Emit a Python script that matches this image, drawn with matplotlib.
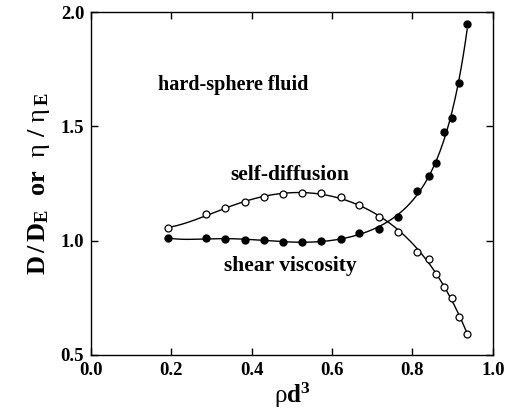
import numpy as np
import matplotlib.pyplot as plt

plt.rcParams['font.family'] = 'Liberation Serif'
plt.rcParams['font.weight'] = 'bold'
plt.rcParams['axes.labelweight'] = 'bold'
plt.rcParams['mathtext.fontset'] = 'custom'
plt.rcParams['mathtext.rm'] = 'Liberation Serif:weight=normal'
plt.rcParams['mathtext.bf'] = 'Liberation Serif:weight=bold'
plt.rcParams['mathtext.it'] = 'Liberation Serif:weight=bold'

# reduced density rho*d^3
dens = [0.191, 0.286, 0.334, 0.382, 0.430, 0.477, 0.525, 0.573, 0.621, 0.668,
        0.716, 0.764, 0.812, 0.840, 0.859, 0.879, 0.898, 0.917, 0.936]
# D / D_E (open circles)
diff = [1.056, 1.115, 1.141, 1.169, 1.191, 1.203, 1.210, 1.207, 1.193, 1.156,
        1.105, 1.038, 0.952, 0.920, 0.853, 0.798, 0.749, 0.666, 0.590]
# eta / eta_E (filled circles)
visc = [1.012, 1.010, 1.007, 1.004, 1.003, 0.993, 0.995, 0.998, 1.006, 1.033,
        1.053, 1.105, 1.217, 1.281, 1.341, 1.474, 1.538, 1.690, 1.947]

x = np.array(dens)
xs = np.linspace(x[0], x[-1], 300)
fit_d = np.polyval(np.polyfit(x, diff, 5), xs)
fit_v = np.polyval(np.polyfit(x, np.log(visc), 6), xs)

fig = plt.figure(figsize=(5.06, 4.18), dpi=100)
ax = fig.add_axes([0.18, 0.151, 0.794, 0.820])

ax.plot(xs, fit_d, color='black', lw=1.0)
ax.plot(xs, np.exp(fit_v), color='black', lw=1.0)
ax.plot(x, diff, 'o', ms=5, mfc='white', mec='black', mew=0.9)
ax.plot(x, visc, 'o', ms=5, mfc='black', mec='black')

ax.text(0.353, 1.682, 'hard-sphere fluid', ha='center', va='center', fontsize=14.5)
ax.text(0.494, 1.289, 'self-diffusion', ha='center', va='center', fontsize=15.5)
ax.text(0.495, 0.891, 'shear viscosity', ha='center', va='center', fontsize=15.5)

ax.set_xlim(0, 1.0)
ax.set_ylim(0.5, 2.0)
ax.set_xticks([0.0, 0.2, 0.4, 0.6, 0.8, 1.0])
ax.set_yticks([0.5, 1.0, 1.5, 2.0])
ax.xaxis.set_major_formatter(plt.FormatStrFormatter('%.1f'))
ax.yaxis.set_major_formatter(plt.FormatStrFormatter('%.1f'))
ax.tick_params(direction='in', top=True, right=True, length=5, width=1,
               labelsize=13.5, pad=5)
for s in ax.spines.values():
    s.set_linewidth(1.0)

ax.set_xlabel(r'$\mathrm{\rho}\mathbf{d^3}$', fontsize=18, labelpad=1)
ax.set_ylabel(r'$\mathbf{D\,/\,D_E}$  or  $\mathrm{\eta}\mathbf{\ /\ }\mathrm{\eta}_{\mathbf{\,E}}$',
              fontsize=19, labelpad=6)

fig.savefig('out.png', dpi=100)
